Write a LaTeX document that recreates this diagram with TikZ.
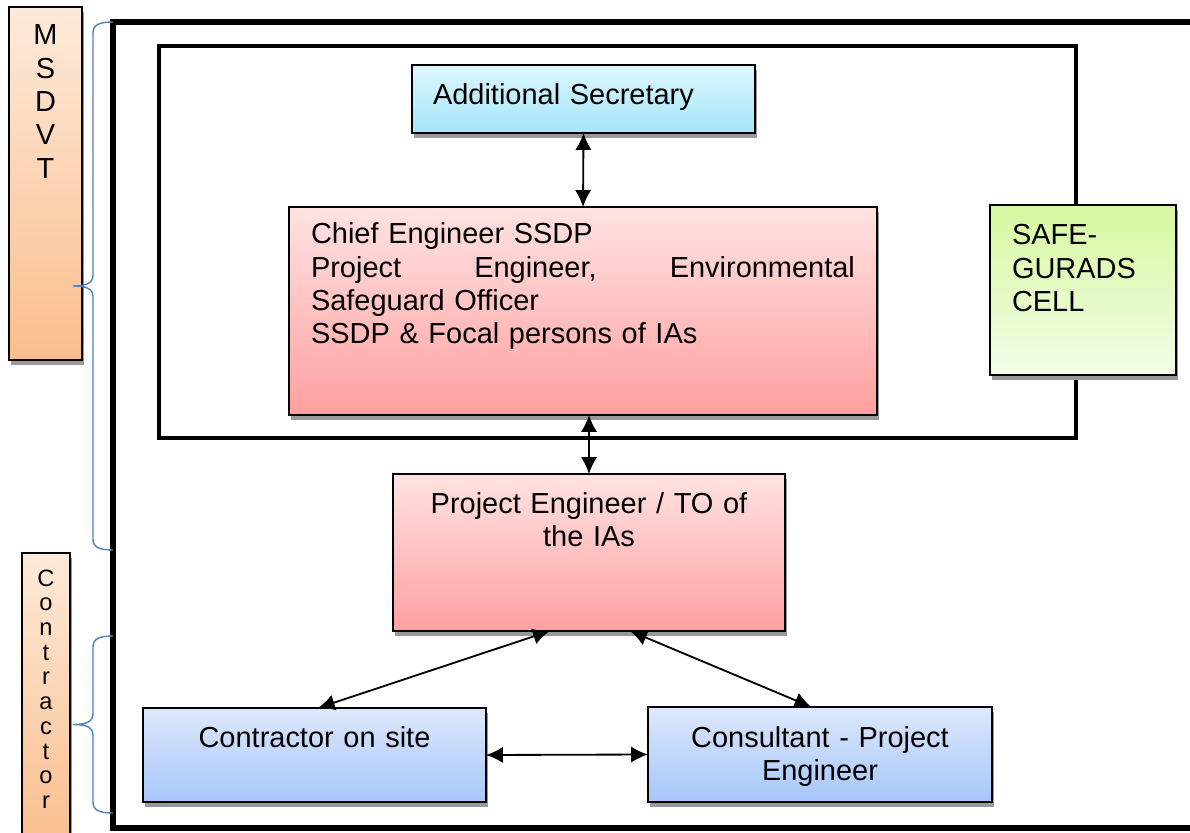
\documentclass[tikz,border=0pt]{standalone}
\usepackage{fontspec}
\setmainfont{Liberation Sans}
\usetikzlibrary{shadows,arrows.meta,calc}

\newlength{\pxu}
\setlength{\pxu}{0.025cm}

\definecolor{peachtop}{RGB}{253,234,218}
\definecolor{peachbot}{RGB}{250,190,140}
\definecolor{cyantop}{RGB}{222,246,253}
\definecolor{cyanbot}{RGB}{163,230,250}
\definecolor{pinktop}{RGB}{255,226,226}
\definecolor{pinkbot}{RGB}{255,160,160}
\definecolor{greentop}{RGB}{214,248,160}
\definecolor{greenbot}{RGB}{243,253,232}
\definecolor{bluetop}{RGB}{222,232,252}
\definecolor{bluebot}{RGB}{166,198,250}
\definecolor{bracecol}{RGB}{79,129,189}

\begin{document}
\begin{tikzpicture}[x=0.025cm, y=-0.025cm,
  box/.style={draw, line width=0.9pt, anchor=north west, inner ysep=0pt, outer sep=0pt,
    font=\fontsize{20.6}{23.7}\selectfont,
    drop shadow={shadow xshift=0.05cm, shadow yshift=-0.12cm, fill=black!40, opacity=1}},
  peachbox/.style={box, top color=peachtop, bottom color=peachbot, align=center},
  cyanbox/.style={box, top color=cyantop, bottom color=cyanbot},
  pinkbox/.style={box, top color=pinktop, bottom color=pinkbot},
  greenbox/.style={box, top color=greentop, bottom color=greenbot},
  bluebox/.style={box, top color=bluetop, bottom color=bluebot, align=center},
  link/.style={{Latex[length=12pt,width=11.5pt]}-{Latex[length=12pt,width=11.5pt]}, line width=1.3pt},
  curly/.style={draw=bracecol, line width=1pt}]
  \clip (0,0) rectangle (1190,833);

  % frames
  \draw[line width=3.8pt] (113,22) rectangle (1220,828);
  \draw[line width=2.8pt] (159,46) rectangle (1076,438);

  % side labels
  \node[peachbox, inner xsep=4\pxu, text width=65\pxu, text height=38\pxu, text depth=315\pxu]
    (msdvt) at (9,7) {M\\S\\D\\V\\T};
  \node[peachbox, font=\fontsize{16.8}{17.6}\selectfont, inner xsep=2\pxu, text width=44\pxu,
    text height=33\pxu, text depth=260\pxu]
    (contr) at (22,553) {C\\o\\n\\t\\r\\a\\c\\t\\o\\r};

  % boxes
  \node[cyanbox, align=left, inner xsep=21\pxu, text width=301\pxu, text height=40\pxu, text depth=28\pxu]
    (addsec) at (412,65) {Additional Secretary};
  \node[pinkbox, align=left, inner xsep=22\pxu, text width=544\pxu, text height=37\pxu, text depth=171\pxu]
    (chief) at (289,207) {Chief Engineer SSDP\\
      Project\hfill Engineer,\hfill Environmental\\
      Safeguard Officer\\
      SSDP \& Focal persons of IAs};
  \node[greenbox, align=left, inner xsep=22\pxu, text width=142\pxu, text height=40\pxu, text depth=130\pxu]
    (safecell) at (990,205) {SAFE-\\GURADS\\CELL};
  \node[pinkbox, align=center, inner xsep=10\pxu, text width=372\pxu, text height=39\pxu, text depth=118\pxu]
    (projeng) at (393,474) {Project Engineer / TO of\\the IAs};
  \node[bluebox, inner xsep=10\pxu, text width=323\pxu, text height=39\pxu, text depth=55\pxu]
    (consite) at (143,708) {Contractor on site};
  \node[bluebox, inner xsep=10\pxu, text width=324\pxu, text height=40\pxu, text depth=55\pxu]
    (consult) at (648,707) {Consultant - Project\\Engineer};

  % braces
  \foreach \ya/\yb in {22/550,636/813} {
    \pgfmathsetmacro\ym{(\ya+\yb)/2}
    \draw[curly] (113,\ya) .. controls (99,\ya) and (93,\ya+3) .. (93,\ya+11)
      -- (93,\ym-11) .. controls (93,\ym-3) and (87,\ym) .. (73,\ym)
      .. controls (87,\ym) and (93,\ym+3) .. (93,\ym+11)
      -- (93,\yb-11) .. controls (93,\yb-3) and (99,\yb) .. (113,\yb);
  };

  % links
  \draw[link] (addsec.south) -- (chief.north);
  \draw[link] (chief.south -| projeng.north) -- (projeng.north);
  \draw[link] ($(projeng.south west)!0.4!(projeng.south east)$)
    -- ($(consite.north west)!0.51!(consite.north east)$);
  \draw[link] ($(projeng.south west)!0.605!(projeng.south east)$)
    -- ($(consult.north west)!0.475!(consult.north east)$);
  \draw[link] (consite.east) -- (consult.west);
\end{tikzpicture}
\end{document}
